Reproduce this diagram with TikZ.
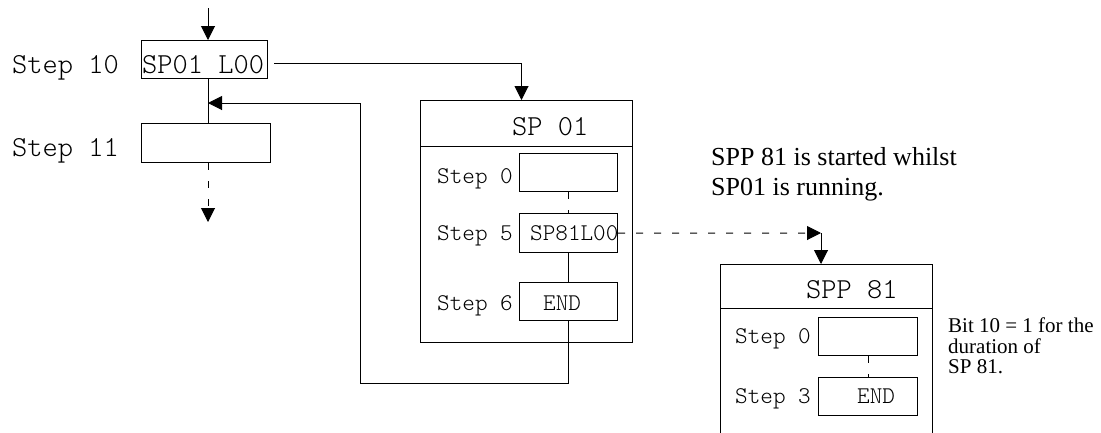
\documentclass[tikz,border=0pt]{standalone}
\usepackage{fontspec}
\setmainfont{Liberation Serif}
\setmonofont{Latin Modern Mono Light}
\usetikzlibrary{arrows.meta,calc}

\begin{document}
\begin{tikzpicture}[x=1bp,y=-1bp,
  line/.style={draw=black,line width=1bp},
  arrow/.style={line,-{Triangle[length=14bp,width=14bp]}},
  dashline/.style={dash pattern=on 7bp off 11bp},
  box/.style={line,rectangle,inner sep=0pt,anchor=north west},
  bigmono/.style={font=\fontsize{29bp}{30bp}\selectfont\ttfamily,inner sep=0pt,anchor=base west},
  smallmono/.style={font=\fontsize{24bp}{25bp}\selectfont\ttfamily,inner sep=0pt,anchor=base west},
  note/.style={font=\fontsize{26bp}{30bp}\selectfont,inner sep=0pt,anchor=base west},
  smallnote/.style={font=\fontsize{21bp}{21bp}\selectfont,inner sep=0pt,anchor=base west}]
\useasboundingbox (0,0) rectangle (1101,432);
\clip (0,0) rectangle (1101,432);

% main sequence
\node[box,minimum width=126bp,minimum height=38bp] (s10) at (141,40) {};
\node[box,minimum width=129bp,minimum height=39bp] (s11) at (141,123) {};
\node[bigmono] (l10) at (12,73) {Step 10};
\node[bigmono] (l11) at (12,156) {Step 11};
\node[bigmono] (t10) at (142,73) {SP01 L00};

\coordinate (top) at (208,8);
\coordinate (ret) at (208,103);
\coordinate (cont) at (208,222);
\coordinate (loopx) at (360,383);

% sequence block SP 01
\node[box,minimum width=212bp,minimum height=242bp] (sp01) at (420,100) {};
\draw[line] ($(sp01.north west)+(0,46)$) -- ($(sp01.north east)+(0,46)$);
\node[bigmono] (h01) at (512,135) {SP 01};
\node[box,minimum width=98bp,minimum height=38bp] (a0) at (519,153) {};
\node[box,minimum width=98bp,minimum height=39bp] (a5) at (519,213) {};
\node[box,minimum width=98bp,minimum height=38bp] (a6) at (519,282) {};
\node[smallmono] (la0) at (437,183) {Step 0};
\node[smallmono] (la5) at (437,240) {Step 5};
\node[smallmono] (la6) at (437,310) {Step 6};
\node[smallmono] (ta5) at (530,240) {SP81L00};
\node[smallmono] (ta6) at (543,310) {END};

% parallel sequence block SPP 81
\node[box,minimum width=212bp,minimum height=200bp] (spp) at (720,264) {};
\draw[line] ($(spp.north west)+(0,44)$) -- ($(spp.north east)+(0,44)$);
\node[bigmono] (h81) at (806,298) {SPP 81};
\node[box,minimum width=99bp,minimum height=38bp] (b0) at (818,317) {};
\node[box,minimum width=99bp,minimum height=38bp] (b3) at (818,377) {};
\node[smallmono] (lb0) at (735,343) {Step 0};
\node[smallmono] (lb3) at (735,403) {Step 3};
\node[smallmono] (tb3) at (857,403) {END};
\coordinate (sppin) at (821,233);

% remarks
\node[note] (n1) at (711,165) {SPP 81 is started whilst};
\node[note] (n2) at (711,195) {SP01 is running.};
\node[smallnote] (r1) at (948,332) {Bit 10 = 1 for the};
\node[smallnote] (r2) at (948,353) {duration of};
\node[smallnote] (r3) at (948,373) {SP 81.};

% connectors
\draw[arrow] (top) -- (top |- s10.north);
\draw[line] (top |- s10.south) -- (top |- s11.north);
\draw[arrow,dashline] (top |- s11.south) -- (cont);
\draw[arrow] ([xshift=6bp,yshift=-4bp]s10.east) -| ([xshift=-5bp]sp01.north);
\draw[line,dashline] (a0.south) -- (a5.north);
\draw[line] (a5.south) -- (a6.north);
\draw[arrow] (a6.south) |- (loopx) |- (ret);
\draw[arrow,dashline] (a5.east) -- (sppin);
\draw[arrow] (sppin) -- (sppin |- spp.north);
\draw[line,dashline] (b0.south) -- (b3.north);
\end{tikzpicture}
\end{document}
